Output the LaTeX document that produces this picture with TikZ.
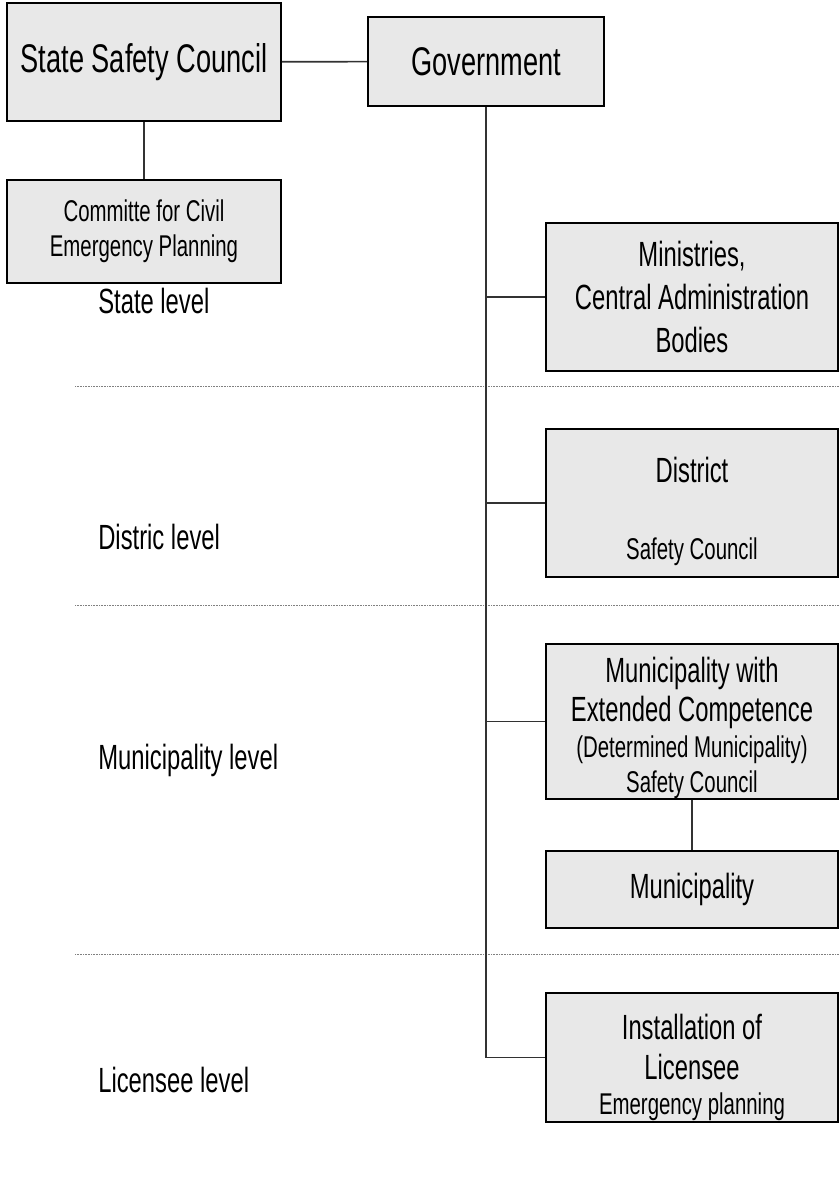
\documentclass[tikz,border=0pt]{standalone}
\usepackage{fontspec}
\setmainfont{Liberation Sans}[FakeStretch=0.68]
\usepackage{xcolor}
\definecolor{boxgray}{RGB}{232,232,232}
\definecolor{linegray}{RGB}{50,50,50}
\newcommand\bigtxt{\fontsize{40}{46}\selectfont}
\newcommand\medtxt{\fontsize{35}{40}\selectfont}
\newcommand\smalltxt{\fontsize{30}{35}\selectfont}

\begin{document}
\begin{tikzpicture}[x=1pt,y=-1pt,semithick]
  \tikzstyle{box}=[rectangle,draw=black,line width=1.8pt,fill=boxgray,inner sep=0pt,align=center,text=black,font=\medtxt]
  \tikzstyle{wide}=[box,minimum width=274pt]
  \tikzstyle{right}=[box,minimum width=292pt]
  \tikzstyle{link}=[draw=linegray,line width=1.6pt]
  \tikzstyle{sep}=[draw=gray,line width=1pt,dash pattern=on 0.8pt off 0.8pt]
  \tikzstyle{level}=[anchor=base west,inner sep=0pt,font=\medtxt]

  \useasboundingbox (0,0) rectangle (839,1196);

  % top
  \node[wide,minimum height=118pt,font=\bigtxt] (ssc) at (144,62) {State Safety Council};
  \node[box,minimum width=236pt,minimum height=89pt,font=\bigtxt] (gov) at (486,61.5) {Government};
  \node[wide,minimum height=103pt,font=\smalltxt] (cep) at (144,231.5)
    {Committe for Civil\\Emergency Planning};

  % right column
  \node[right,minimum height=148pt,font=\fontsize{35}{43}\selectfont] (min) at (692,297)
    {Ministries,\\Central Administration\\Bodies};
  \node[right,minimum height=148pt] (dist) at (692,503)
    {\rule{0pt}{42pt}District\\[37pt]{\smalltxt Safety Council}};
  \node[right,minimum height=155pt,font=\fontsize{35}{39}\selectfont] (mext) at (692,721.5)
    {\rule{0pt}{38pt}Municipality with\\Extended Competence\\[-3pt]{\smalltxt (Determined Municipality)}\\[-4pt]{\smalltxt Safety Council}};
  \node[right,minimum height=77pt] (mun) at (692,889.5) {Municipality};
  \node[right,minimum height=129pt,inner ysep=-15pt,font=\fontsize{35}{40}\selectfont] (inst) at (692,1057.5)
    {\rule{0pt}{46pt}Installation of\\Licensee\\[-5pt]{\smalltxt Emergency planning}};

  % levels
  \foreach \y in {386,605,954}
    \draw[sep] (75,\y) -- (839,\y);
  \node[level] (statelvl) at (98,313) {State level};
  \node[level] (distlvl) at (98,549) {Distric level};
  \node[level] (munlvl) at (98,769) {Municipality level};
  \node[level] (liclvl) at (98,1092) {Licensee level};

  % connectors
  \path[link] (ssc) edge (gov)
              (ssc) edge (cep)
              (mext) edge (mun);
  \draw[link] (gov.south) -- (gov.south |- inst.west) -- (inst.west);
  \foreach \n in {min,dist,mext}
    \draw[link] (gov.south |- \n.west) -- (\n.west);
\end{tikzpicture}
\end{document}
